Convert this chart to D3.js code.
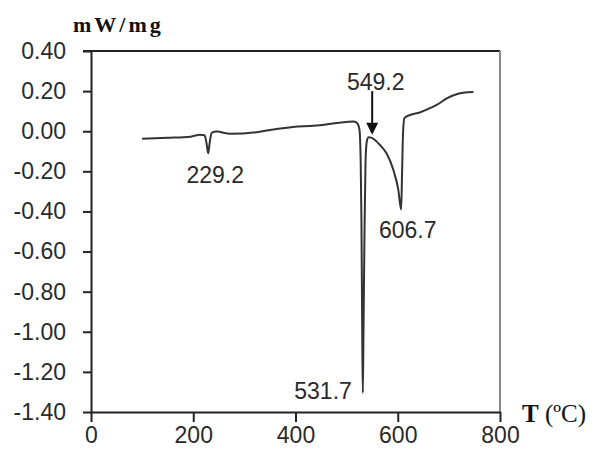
<!DOCTYPE html>
<html>
<head>
<meta charset="utf-8">
<script src="https://cdn.jsdelivr.net/npm/d3@7"></script>
<style>
  body { margin: 0; background: #fff; }
  svg { display: block; }
  .axis text { font-family: "Liberation Sans", Arial, sans-serif; font-size: 23px; fill: #2a2a2a; }
  .axis path, .axis line { stroke: #222; stroke-width: 2px; }
  .note { font-family: "Liberation Sans", Arial, sans-serif; font-size: 23px; fill: #2a2a2a; }
</style>
</head>
<body>
<svg id="chart"></svg>
<script>
// DSC curve, temperature (°C) vs heat flow (mW/mg)
const temperature = [100, 150, 195, 213, 222, 226, 229.2, 232, 236, 246, 272, 324, 360, 395, 435, 500, 513, 520, 525,
  527.5, 529, 530.5, 531.7, 533, 535, 537, 539.5, 543, 548, 556, 565, 578, 591, 601, 606.7, 608.5, 610.5, 613,
  624, 643, 663, 676, 696, 712, 728, 748];
const heatFlow = [-0.038, -0.033, -0.027, -0.018, -0.02, -0.06, -0.11, -0.06, -0.008, -0.002, -0.013, -0.005, 0.01, 0.021, 0.027, 0.046, 0.048, 0.042, 0.01,
  -0.15, -0.45, -1.0, -1.305, -1.0, -0.5, -0.15, -0.05, -0.03, -0.032, -0.045, -0.068, -0.11, -0.19, -0.29, -0.39, -0.2, 0.0, 0.065,
  0.081, 0.093, 0.115, 0.131, 0.164, 0.182, 0.192, 0.196];

const xTicks = [0, 200, 400, 600, 800];
const yTicks = [0.40, 0.20, 0.00, -0.20, -0.40, -0.60, -0.80, -1.00, -1.20, -1.40];

// peak annotations
const peakT = [229.2, 531.7, 606.7];
const peakV = [-0.11, -1.305, -0.39];
const peakLabels = ["229.2", "531.7", "606.7"];
// arrow annotation
const arrowT = 550;
const arrowFrom = 0.2;
const arrowTo = -0.018;
const arrowLabel = "549.2";

const width = 594, height = 459;
const margin = { top: 51, right: 94, bottom: 47, left: 91 };
const innerW = width - margin.left - margin.right;
const innerH = height - margin.top - margin.bottom;

const svg = d3.select("#chart").attr("width", width).attr("height", height);
const g = svg.append("g").attr("transform", `translate(${margin.left},${margin.top})`);

const x = d3.scaleLinear().domain([0, 800]).range([0, innerW]);
const y = d3.scaleLinear().domain([-1.4, 0.4]).range([innerH, 0]);

// frame: top and right
g.append("line").attr("x1", -8).attr("x2", innerW).attr("y1", 0).attr("y2", 0)
  .attr("stroke", "#222").attr("stroke-width", 2);
g.append("line").attr("x1", innerW).attr("x2", innerW).attr("y1", 0).attr("y2", innerH)
  .attr("stroke", "#888").attr("stroke-width", 2);

// axes
const yAxis = d3.axisLeft(y).tickValues(yTicks).tickSize(8).tickSizeOuter(0).tickPadding(17)
  .tickFormat(d => d.toFixed(2));
g.append("g").attr("class", "axis").call(yAxis);

const xAxis = d3.axisBottom(x).tickValues(xTicks).tickSize(10).tickSizeOuter(0).tickPadding(5);
g.append("g").attr("class", "axis").attr("transform", `translate(0,${innerH})`).call(xAxis);

// curve
const pts = temperature.map((t, i) => [t, heatFlow[i]]);
const line = d3.line().x(d => x(d[0])).y(d => y(d[1])).curve(d3.curveMonotoneX);
g.append("path").datum(pts).attr("d", line)
  .attr("fill", "none").attr("stroke", "#333").attr("stroke-width", 2);

// peak labels
const offs = [[7, 30, "middle"], [-11, 6, "end"], [6.5, 29, "middle"]];
peakLabels.forEach((lab, i) => {
  g.append("text").attr("class", "note")
    .attr("x", x(peakT[i]) + offs[i][0])
    .attr("y", y(peakV[i]) + offs[i][1])
    .attr("text-anchor", offs[i][2])
    .text(lab);
});

// arrow
const ax = x(arrowT), ay1 = y(arrowFrom), ay2 = y(arrowTo);
g.append("line").attr("x1", ax).attr("x2", ax).attr("y1", ay1).attr("y2", ay2 - 10)
  .attr("stroke", "#111").attr("stroke-width", 2);
g.append("path").attr("d", `M${ax - 6},${ay2 - 12}L${ax + 6},${ay2 - 12}L${ax},${ay2}Z`).attr("fill", "#111");
g.append("text").attr("class", "note").attr("x", ax + 3.5).attr("y", ay1 - 1)
  .attr("text-anchor", "middle").text(arrowLabel);

// axis titles
svg.append("text").attr("x", 73).attr("y", 31.5)
  .style("font-family", "'Liberation Serif', 'Times New Roman', serif")
  .style("font-size", "22px").style("font-weight", "bold").style("letter-spacing", "3px")
  .attr("fill", "#111").text("mW/mg");

const xt = svg.append("text").attr("x", 522).attr("y", 421.5)
  .style("font-family", "'Liberation Serif', 'Times New Roman', serif")
  .style("font-size", "25px").attr("fill", "#111");
xt.append("tspan").style("font-weight", "bold").text("T");
xt.append("tspan").text(" (ºC)");
</script>
</body>
</html>
